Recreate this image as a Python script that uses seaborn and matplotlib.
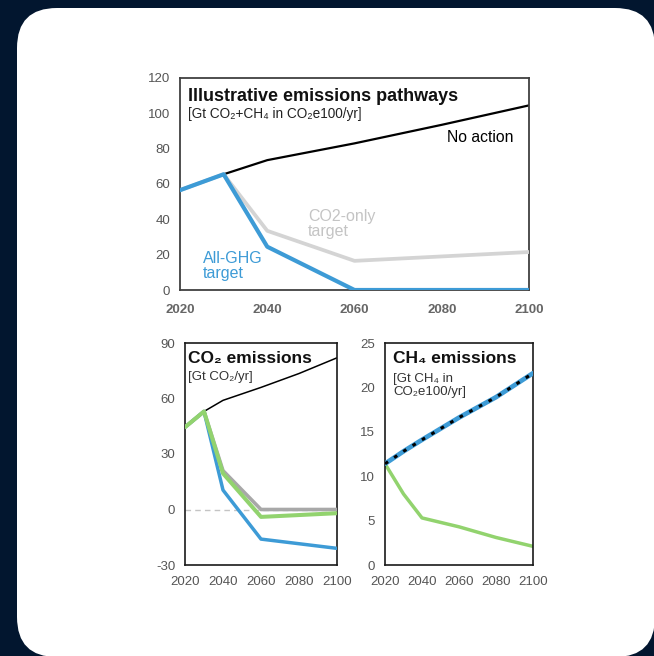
import matplotlib
matplotlib.use("Agg")
import matplotlib.pyplot as plt
from matplotlib.patches import FancyBboxPatch
import seaborn as sns
import pandas as pd

# ---- data -------------------------------------------------------------
# Total emissions, Gt CO2+CH4 in CO2e100 per year
total_years = [2020, 2030, 2040, 2060, 2080, 2100]
total_no_action = [56.5, 65.5, 73.5, 83.0, 93.5, 104.5]
path_years = [2020, 2030, 2040, 2060, 2100]
total_co2_only_target = [56.5, 65.5, 33.5, 16.5, 21.5]
total_all_ghg_target = [56.5, 65.5, 24.5, 0.0, 0.0]

# CO2 emissions, Gt CO2 per year
co2_years = [2020, 2030, 2040, 2060, 2080, 2100]
co2_no_action = [44.5, 53.0, 59.0, 66.0, 73.5, 82.0]
co2_co2_only_target = [44.5, 53.0, 21.0, 0.0, 0.0, 0.0]
co2_all_ghg_no_ch4_cut = [44.5, 53.0, 10.5, -16.0, -18.5, -21.0]
co2_all_ghg_ch4_cut = [44.5, 53.0, 19.5, -4.0, -3.0, -2.0]

# CH4 emissions, Gt CH4 in CO2e100 per year
ch4_years = [2020, 2030, 2040, 2060, 2080, 2100]
ch4_no_action = [11.4, 12.8, 14.1, 16.6, 18.9, 21.6]
ch4_mitigated = [11.4, 8.0, 5.3, 4.3, 3.1, 2.1]

# axis ticks
total_xticks = [2020, 2040, 2060, 2080, 2100]
total_yticks = [0, 20, 40, 60, 80, 100, 120]
co2_yticks = [-30, 0, 30, 60, 90]
ch4_yticks = [0, 5, 10, 15, 20, 25]

# ---- style ------------------------------------------------------------
sns.set_theme(style="white")
plt.rcParams["font.family"] = ["Liberation Sans", "DejaVu Sans"]
plt.rcParams["axes.unicode_minus"] = False

NAVY = "#02162f"
BLUE = "#3d9bd6"
GREEN = "#92d36e"
LIGHT_GREY = "#d4d4d4"
MID_GREY = "#a8a8a8"
TICK_GREY = "#555555"

fig = plt.figure(figsize=(6.54, 6.56), dpi=100)
fig.patch.set_facecolor(NAVY)

card = FancyBboxPatch((17 / 654, -1 / 656), 638 / 654, 649 / 656,
                      boxstyle="round,pad=0,rounding_size=0.061",
                      transform=fig.transFigure, facecolor="white",
                      edgecolor="none", zorder=-5)
fig.patches.append(card)


def frame(ax, color, lw, xpad=8):
    for sp in ax.spines.values():
        sp.set_visible(True)
        sp.set_color(color)
        sp.set_linewidth(lw)
    ax.set_facecolor("white")
    ax.tick_params(length=0, labelsize=9.5, labelcolor=TICK_GREY)
    ax.tick_params(axis="y", pad=7)
    ax.tick_params(axis="x", pad=xpad)
    ax.set_xlabel("")
    ax.set_ylabel("")


def line(ax, x, y, color, lw, **kw):
    df = pd.DataFrame({"year": x, "value": y})
    sns.lineplot(data=df, x="year", y="value", ax=ax, color=color,
                 linewidth=lw, legend=False, **kw)


# ---- top panel: total emissions ----------------------------------------
ax_top = fig.add_axes([180 / 654, 1 - 290 / 656, 349 / 654, 212 / 656])
line(ax_top, total_years, total_no_action, "black", 1.6, zorder=2)
line(ax_top, path_years, total_co2_only_target, LIGHT_GREY, 2.7, zorder=3)
line(ax_top, path_years, total_all_ghg_target, BLUE, 3.0, zorder=4)
ax_top.set_xlim(2020, 2100)
ax_top.set_ylim(0, 120)
ax_top.set_xticks(total_xticks)
ax_top.set_yticks(total_yticks)
frame(ax_top, "#404040", 1.3, xpad=10)
for lab in ax_top.get_xticklabels():
    lab.set_fontweight("bold")
    lab.set_color("#666666")

ax_top.text(0.023, 0.915, "Illustrative emissions pathways",
            transform=ax_top.transAxes, fontsize=13, fontweight="bold",
            color="#111111", va="center", ha="left")
ax_top.text(0.023, 0.83, "[Gt CO₂+CH₄ in CO₂e100/yr]",
            transform=ax_top.transAxes, fontsize=9.8, color="#222222",
            va="center", ha="left")
ax_top.text(2096.5, 86.6, "No action", fontsize=11.3, color="black",
            ha="right", va="center")
ax_top.text(2049.3, 37.3, "CO2-only\ntarget", fontsize=11.5, color="#c4c4c4",
            ha="left", va="center", linespacing=1.0)
ax_top.text(2025.3, 13.6, "All-GHG\ntarget", fontsize=11.5, color=BLUE,
            ha="left", va="center", linespacing=1.0)

# ---- bottom left: CO2 emissions ----------------------------------------
ax_co2 = fig.add_axes([185 / 654, 1 - 565 / 656, 152 / 654, 222 / 656])
ax_co2.axhline(0, color="#c4c4c4", lw=1.0, dashes=(4, 3), zorder=1)
line(ax_co2, co2_years, co2_no_action, "black", 1.1, zorder=2)
line(ax_co2, co2_years, co2_co2_only_target, MID_GREY, 2.6, zorder=3)
line(ax_co2, co2_years, co2_all_ghg_no_ch4_cut, BLUE, 2.5, zorder=4)
line(ax_co2, co2_years, co2_all_ghg_ch4_cut, GREEN, 2.9, zorder=5)
ax_co2.set_xlim(2020, 2100)
ax_co2.set_ylim(-30, 90)
ax_co2.set_xticks(total_xticks)
ax_co2.set_yticks(co2_yticks)
frame(ax_co2, "#1a1a1a", 1.2)
ax_co2.text(0.02, 0.932, "CO₂ emissions", transform=ax_co2.transAxes,
            fontsize=12.5, fontweight="bold", color="#111111",
            va="center", ha="left")
ax_co2.text(0.02, 0.847, "[Gt CO₂/yr]", transform=ax_co2.transAxes,
            fontsize=9.5, color="#333333", va="center", ha="left")

# ---- bottom right: CH4 emissions ---------------------------------------
ax_ch4 = fig.add_axes([385 / 654, 1 - 565 / 656, 148 / 654, 222 / 656])
line(ax_ch4, ch4_years, ch4_mitigated, GREEN, 2.5, zorder=2)
line(ax_ch4, ch4_years, ch4_no_action, BLUE, 3.4, zorder=3)
line(ax_ch4, ch4_years, ch4_no_action, "black", 2.2, zorder=4,
     linestyle=(0, (1.2, 2.4)))
ax_ch4.set_xlim(2020, 2100)
ax_ch4.set_ylim(0, 25)
ax_ch4.set_xticks(total_xticks)
ax_ch4.set_yticks(ch4_yticks)
frame(ax_ch4, "#1a1a1a", 1.2)
ax_ch4.text(0.054, 0.932, "CH₄ emissions", transform=ax_ch4.transAxes,
            fontsize=12.5, fontweight="bold", color="#111111",
            va="center", ha="left")
ax_ch4.text(0.054, 0.81, "[Gt CH₄ in\nCO₂e100/yr]", transform=ax_ch4.transAxes,
            fontsize=9.5, color="#333333", va="center", ha="left",
            linespacing=1.15)

fig.savefig("out.png", dpi=100, facecolor=fig.get_facecolor())
